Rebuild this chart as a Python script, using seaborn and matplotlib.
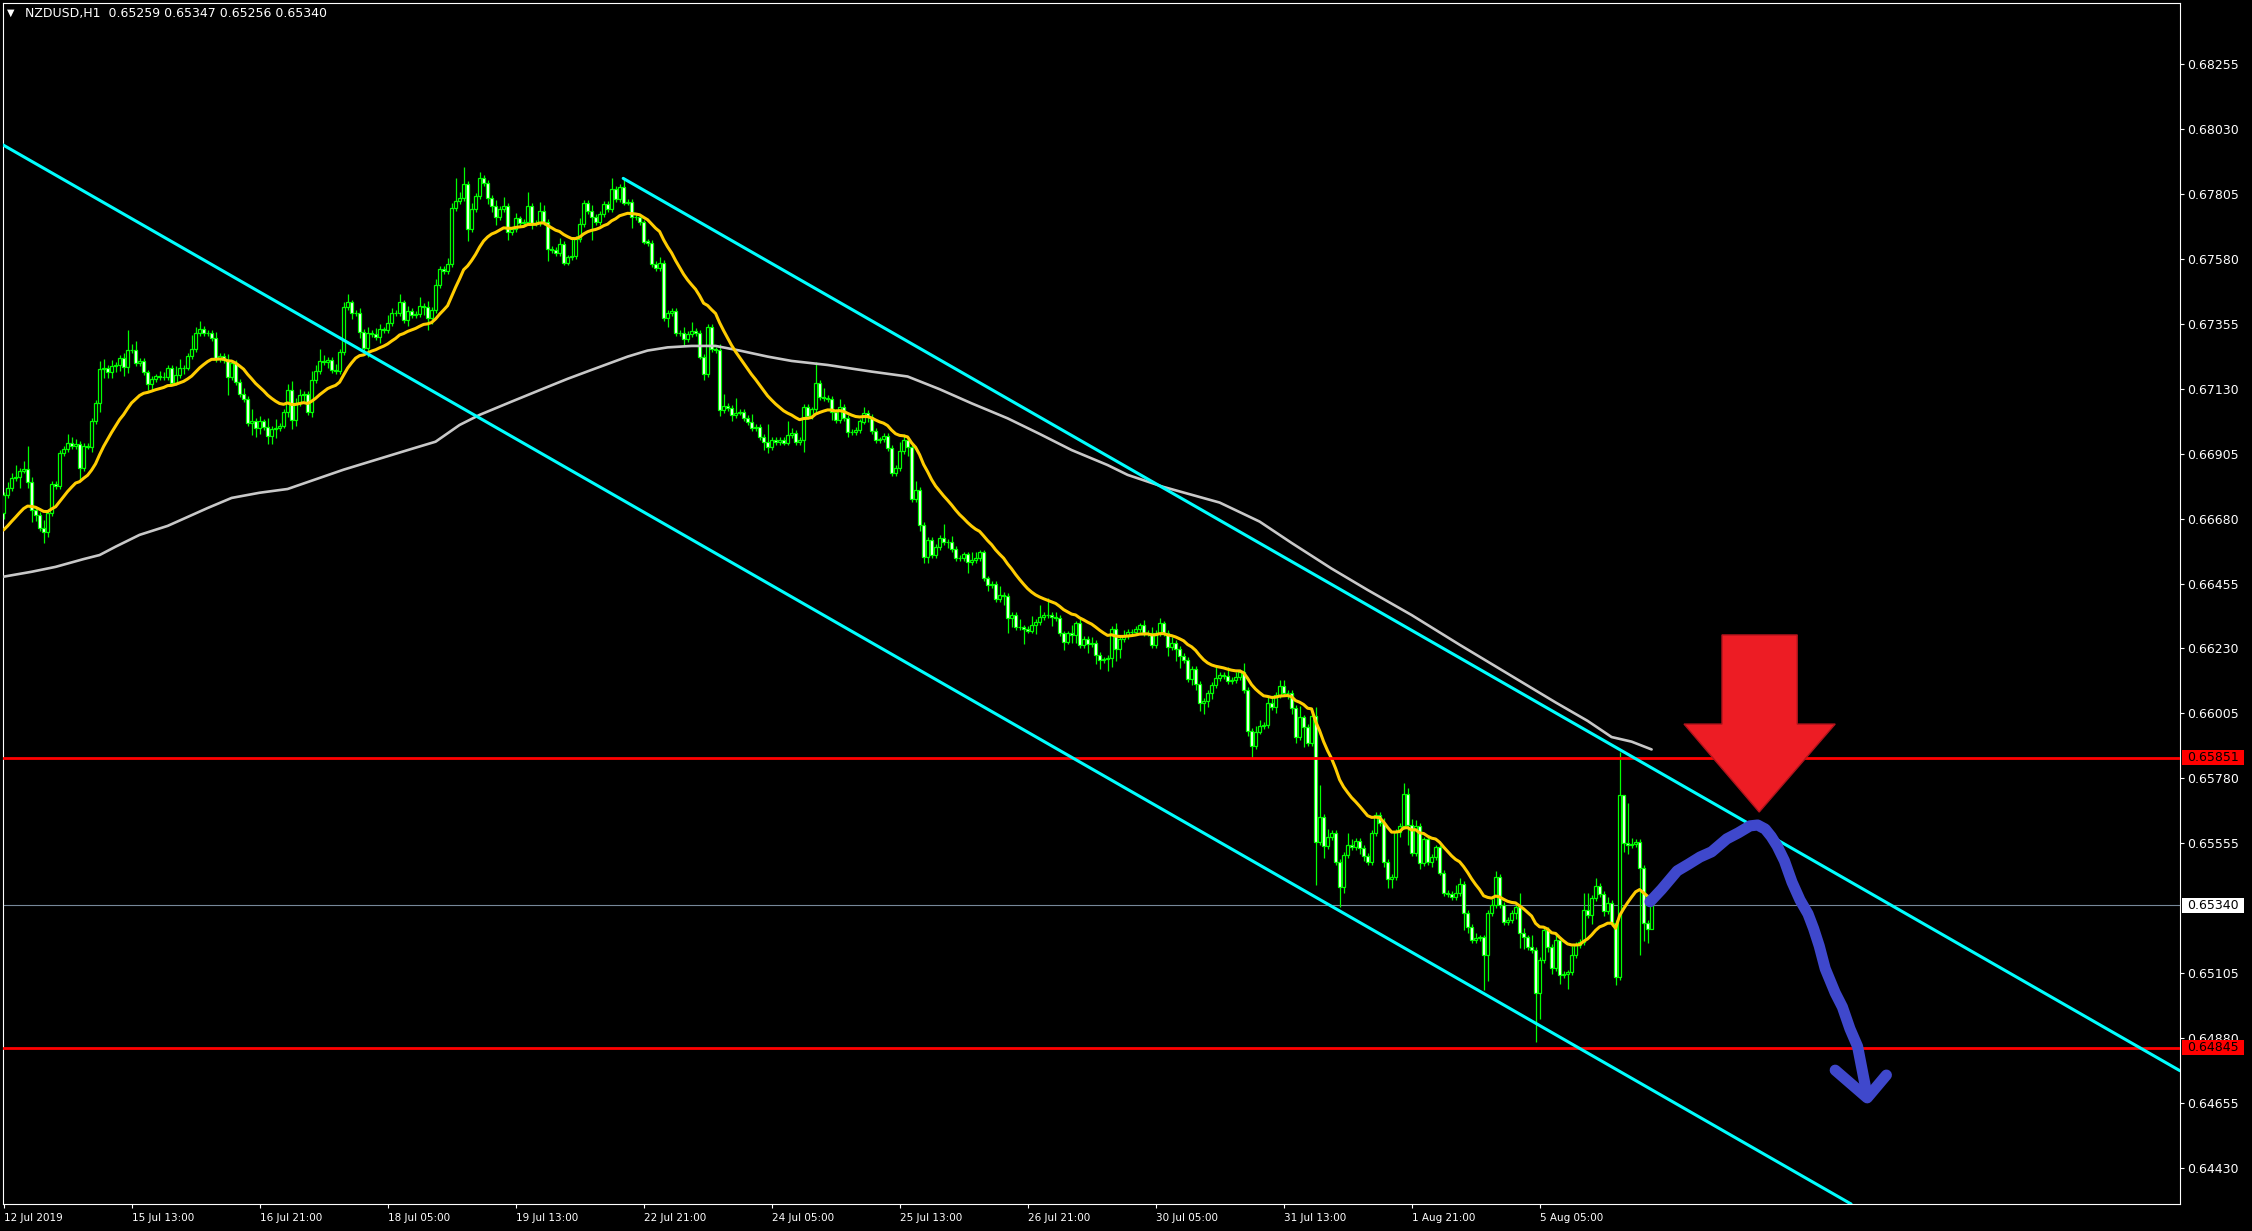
import numpy as np
import matplotlib
matplotlib.use("Agg")
import matplotlib.pyplot as plt
import matplotlib.transforms as mtransforms
from matplotlib.patches import Rectangle
import seaborn as sns

# NZDUSD H1 closes, bar 0 = 12 Jul 2019 05:00
closes = [
    # 0-71
    0.66762, 0.66786, 0.66820, 0.66826, 0.66847, 0.66851, 0.66806, 0.66710, 0.66693, 0.66647,
    0.66635, 0.66699, 0.66801, 0.66794, 0.66909, 0.66921, 0.66942, 0.66933, 0.66938, 0.66855,
    0.66932, 0.66930, 0.67019, 0.67080, 0.67198, 0.67202, 0.67187, 0.67210, 0.67212, 0.67236,
    0.67205, 0.67265, 0.67265, 0.67219, 0.67227, 0.67187, 0.67147, 0.67164, 0.67173, 0.67170,
    0.67170, 0.67202, 0.67152, 0.67179, 0.67202, 0.67204, 0.67244, 0.67268, 0.67325, 0.67337,
    0.67323, 0.67325, 0.67306, 0.67233, 0.67244, 0.67231, 0.67170, 0.67219, 0.67155, 0.67112,
    0.67094, 0.67011, 0.67020, 0.66994, 0.67017, 0.66999, 0.66968, 0.66990, 0.66994, 0.67003,
    0.67051, 0.67127,
    # 72-141
    0.67022, 0.67080, 0.67109, 0.67112, 0.67051, 0.67161, 0.67193, 0.67228, 0.67223, 0.67230,
    0.67196, 0.67191, 0.67259, 0.67413, 0.67430, 0.67394, 0.67392, 0.67328, 0.67271, 0.67323,
    0.67320, 0.67309, 0.67336, 0.67334, 0.67357, 0.67392, 0.67392, 0.67430, 0.67369, 0.67399,
    0.67385, 0.67389, 0.67417, 0.67415, 0.67375, 0.67404, 0.67490, 0.67546, 0.67540, 0.67563,
    0.67756, 0.67782, 0.67791, 0.67841, 0.67683, 0.67753, 0.67799, 0.67861, 0.67843, 0.67791,
    0.67764, 0.67727, 0.67753, 0.67764, 0.67675, 0.67683, 0.67721, 0.67706, 0.67710, 0.67764,
    0.67704, 0.67704, 0.67747, 0.67710, 0.67614, 0.67612, 0.67600, 0.67632, 0.67568, 0.67586,
    # 142-211
    0.67590, 0.67649, 0.67702, 0.67774, 0.67748, 0.67727, 0.67710, 0.67737, 0.67771, 0.67753,
    0.67822, 0.67788, 0.67829, 0.67776, 0.67779, 0.67727, 0.67725, 0.67707, 0.67641, 0.67637,
    0.67563, 0.67548, 0.67566, 0.67375, 0.67392, 0.67401, 0.67323, 0.67325, 0.67302, 0.67321,
    0.67332, 0.67325, 0.67242, 0.67181, 0.67344, 0.67267, 0.67265, 0.67057, 0.67072, 0.67063,
    0.67040, 0.67048, 0.67050, 0.67028, 0.67014, 0.66993, 0.66999, 0.66962, 0.66947, 0.66928,
    0.66953, 0.66947, 0.66953, 0.66944, 0.66969, 0.66976, 0.66947, 0.66953, 0.67066, 0.67036,
    0.67059, 0.67152, 0.67103, 0.67099, 0.67096, 0.67051, 0.67022, 0.67066, 0.67028, 0.66982,
    # 212-281
    0.66981, 0.66988, 0.67017, 0.67048, 0.67034, 0.66985, 0.66953, 0.66955, 0.66968, 0.66924,
    0.66837, 0.66855, 0.66915, 0.66953, 0.66928, 0.66747, 0.66780, 0.66658, 0.66548, 0.66606,
    0.66554, 0.66581, 0.66612, 0.66600, 0.66599, 0.66574, 0.66543, 0.66543, 0.66556, 0.66531,
    0.66536, 0.66543, 0.66563, 0.66473, 0.66450, 0.66455, 0.66400, 0.66415, 0.66412, 0.66334,
    0.66345, 0.66303, 0.66303, 0.66297, 0.66292, 0.66311, 0.66323, 0.66340, 0.66345, 0.66345,
    0.66338, 0.66337, 0.66282, 0.66254, 0.66282, 0.66278, 0.66317, 0.66242, 0.66264, 0.66245,
    0.66250, 0.66207, 0.66190, 0.66192, 0.66196, 0.66299, 0.66227, 0.66262, 0.66273, 0.66286,
    # 282-351
    0.66288, 0.66297, 0.66310, 0.66285, 0.66283, 0.66242, 0.66283, 0.66317, 0.66285, 0.66234,
    0.66250, 0.66227, 0.66204, 0.66190, 0.66123, 0.66158, 0.66107, 0.66042, 0.66048, 0.66075,
    0.66104, 0.66127, 0.66138, 0.66135, 0.66118, 0.66121, 0.66130, 0.66150, 0.66086, 0.65945,
    0.65892, 0.65942, 0.65961, 0.65964, 0.66042, 0.66028, 0.66069, 0.66101, 0.66077, 0.66075,
    0.66023, 0.65922, 0.65991, 0.65959, 0.65903, 0.65996, 0.65560, 0.65647, 0.65545, 0.65575,
    0.65589, 0.65491, 0.65402, 0.65514, 0.65549, 0.65543, 0.65564, 0.65537, 0.65512, 0.65491,
    0.65589, 0.65653, 0.65624, 0.65491, 0.65430, 0.65437, 0.65595, 0.65615, 0.65725, 0.65618,
    # 352-412
    0.65522, 0.65614, 0.65485, 0.65568, 0.65491, 0.65508, 0.65540, 0.65453, 0.65383, 0.65379,
    0.65369, 0.65381, 0.65413, 0.65314, 0.65265, 0.65219, 0.65225, 0.65228, 0.65167, 0.65314,
    0.65340, 0.65439, 0.65340, 0.65283, 0.65288, 0.65312, 0.65332, 0.65242, 0.65228, 0.65196,
    0.65184, 0.65036, 0.65150, 0.65254, 0.65196, 0.65121, 0.65219, 0.65098, 0.65101, 0.65107,
    0.65167, 0.65202, 0.65213, 0.65323, 0.65306, 0.65364, 0.65406, 0.65379, 0.65321, 0.65348,
    0.65277, 0.65092, 0.65722, 0.65554, 0.65549, 0.65552, 0.65559, 0.65468, 0.65277, 0.65259,
    0.65340,
]
first_open = 0.66700

# wick lengths above / below the body, in pips
upper_wick_pips = [
    1, 2, 2, 4, 1, 3, 8, 2, 1, 1,  3, 1, 1, 1, 1, 1, 3, 2, 2, 1,  1, 1, 1, 1, 3, 3, 1, 2, 1, 1,
    2, 7, 2, 3, 1, 1, 1, 1, 1, 2,  2, 1, 1, 3, 3, 1, 1, 5, 2, 3,  1, 1, 1, 2, 1, 1, 2, 1, 1, 1,
    2, 1, 4, 1, 2, 1, 3, 1, 3, 1,  1, 2,
    3, 2, 2, 1, 1, 3, 2, 4, 2, 1,  1, 2, 1, 2, 3, 1, 1, 2, 1, 2,  1, 2, 2, 1, 3, 2, 1, 3, 1, 2,
    1, 1, 3, 1, 2, 1, 2, 1, 1, 2,  2, 8, 2, 6, 1, 2, 1, 2, 1, 1,  1, 2, 1, 3, 1, 1, 2, 1, 1, 5,
    1, 1, 3, 2, 1, 1, 1, 2, 1, 1,
    6, 1, 2, 1, 1, 2, 1, 1, 1, 1,  4, 1, 1, 3, 1, 1, 1, 1, 1, 1,  1, 1, 2, 1, 1, 1, 1, 1, 2, 1,
    3, 1, 1, 1, 1, 1, 1, 2, 4, 1,  1, 5, 1, 1, 1, 3, 1, 1, 1, 6,  1, 1, 1, 1, 5, 2, 1, 1, 1, 1,
    1, 7, 1, 3, 1, 1, 1, 3, 1, 1,
    1, 1, 1, 2, 1, 1, 1, 1, 1, 1,  1, 1, 3, 2, 1, 1, 3, 1, 1, 1,  1, 1, 1, 5, 1, 2, 1, 1, 1, 1,
    3, 2, 1, 1, 1, 1, 1, 3, 1, 1,  1, 1, 3, 1, 1, 3, 1, 4, 1, 6,  1, 2, 1, 1, 1, 3, 1, 2, 1, 1,
    2, 1, 1, 1, 1, 1, 2, 1, 2, 1,
    1, 1, 1, 2, 1, 2, 1, 2, 1, 1,  2, 1, 1, 1, 1, 1, 1, 1, 1, 1,  1, 4, 1, 1, 3, 1, 2, 1, 3, 1,
    1, 2, 2, 1, 2, 2, 1, 2, 2, 1,  1, 1, 4, 1, 1, 2, 3, 11, 1, 3, 1, 1, 1, 1, 4, 2, 1, 1, 1, 1,
    1, 1, 1, 2, 1, 1, 1, 1, 4, 2,
    2, 2, 1, 1, 1, 1, 1, 1, 1, 1,  1, 3, 2, 1, 1, 1, 2, 1, 1, 1,  2, 2, 1, 1, 1, 1, 1, 5, 2, 1,
    4, 1, 1, 1, 1, 1, 2, 1, 1, 1,  3, 1, 1, 6, 6, 1, 3, 1, 1, 2,  1, 1, 15, 0, 14, 2, 1, 1, 1, 1,
    1,
]
lower_wick_pips = [
    2, 1, 1, 1, 4, 1, 2, 4, 2, 1,  4, 2, 1, 1, 1, 1, 1, 1, 1, 4,  1, 1, 2, 1, 3, 3, 2, 2, 2, 2,
    3, 2, 1, 1, 1, 1, 2, 2, 1, 1,  1, 1, 1, 1, 1, 2, 1, 1, 1, 1,  1, 1, 1, 1, 1, 1, 6, 1, 1, 1,
    1, 1, 4, 3, 2, 1, 3, 3, 3, 1,  1, 2,
    3, 2, 1, 2, 1, 2, 1, 1, 1, 2,  1, 1, 1, 1, 1, 2, 1, 2, 1, 3,  1, 1, 2, 1, 1, 1, 1, 1, 1, 2,
    1, 1, 1, 3, 4, 2, 1, 1, 1, 1,  1, 1, 1, 1, 4, 1, 1, 1, 1, 2,  2, 3, 1, 1, 3, 1, 1, 1, 1, 1,
    2, 1, 1, 1, 4, 1, 1, 1, 1, 1,
    1, 1, 1, 1, 1, 8, 1, 1, 1, 1,  1, 1, 1, 1, 1, 4, 1, 1, 1, 1,  1, 1, 1, 1, 3, 1, 1, 1, 2, 1,
    1, 1, 1, 2, 1, 1, 1, 2, 1, 1,  2, 1, 1, 1, 1, 1, 1, 1, 3, 2,  1, 1, 1, 1, 1, 1, 1, 1, 4, 1,
    1, 1, 1, 1, 1, 3, 1, 1, 1, 2,
    1, 1, 1, 1, 2, 1, 1, 1, 1, 1,  1, 1, 1, 1, 3, 1, 1, 2, 2, 2,  1, 1, 1, 1, 2, 1, 1, 1, 1, 4,
    1, 1, 1, 1, 2, 1, 1, 1, 3, 5,  3, 1, 1, 5, 1, 1, 3, 1, 1, 1,  3, 1, 1, 3, 1, 3, 3, 1, 1, 3,
    1, 3, 3, 1, 4, 3, 4, 3, 1, 1,
    1, 1, 1, 1, 1, 1, 1, 1, 1, 3,  1, 4, 4, 1, 1, 2, 2, 3, 4, 2,  2, 1, 1, 1, 1, 1, 1, 1, 1, 2,
    4, 1, 1, 1, 1, 1, 2, 1, 1, 2,  2, 2, 1, 7, 1, 1, 15, 1, 4, 1, 1, 1, 7, 2, 1, 1, 1, 2, 2, 1,
    1, 1, 1, 2, 3, 3, 1, 2, 1, 7,
    1, 1, 2, 1, 1, 2, 1, 1, 1, 1,  1, 1, 1, 6, 2, 1, 1, 1, 12, 9,  1, 1, 1, 1, 1, 1, 2, 5, 4, 1,
    1, 17, 9, 1, 2, 2, 1, 3, 1, 5,  1, 1, 1, 1, 1, 3, 1, 1, 2, 1,  1, 3, 1, 3, 3, 1, 1, 30, 6, 5,
    0,
]

# fast (yellow) MA value at the first bar, slow (silver) MA
ma_fast_start = 0.66641
ma_fast_period = 20
ma_slow_bars = [0, 7, 13, 20, 24, 28, 34, 41, 46, 51, 57, 64, 71, 85, 102, 108, 114, 119, 127,
                136, 141, 147, 156, 161, 166, 172, 178, 184, 191, 197, 206, 217, 226, 234, 242,
                251, 259, 267, 276, 281, 290, 304, 314, 322, 332, 341, 352, 364, 376, 388, 396,
                402, 407, 412]
ma_slow_prices = [0.66479, 0.66496, 0.66513, 0.66540, 0.66554, 0.66583, 0.66624, 0.66655,
                  0.66686, 0.66717, 0.66752, 0.66770, 0.66783, 0.66850, 0.66922, 0.66947,
                  0.67005, 0.67040, 0.67086, 0.67137, 0.67165, 0.67196, 0.67242, 0.67263,
                  0.67274, 0.67279, 0.67279, 0.67263, 0.67242, 0.67227, 0.67213, 0.67190,
                  0.67173, 0.67129, 0.67080, 0.67028, 0.66974, 0.66918, 0.66866, 0.66832,
                  0.66790, 0.66736, 0.66670, 0.66596, 0.66507, 0.66433, 0.66346, 0.66243,
                  0.66143, 0.66043, 0.65979, 0.65923, 0.65907, 0.65880]

x_tick_bars = [0, 32, 64, 96, 128, 160, 192, 224, 256, 288, 320, 352, 384]
x_tick_labels = ["12 Jul 2019", "15 Jul 13:00", "16 Jul 21:00", "18 Jul 05:00", "19 Jul 13:00",
                 "22 Jul 21:00", "24 Jul 05:00", "25 Jul 13:00", "26 Jul 21:00", "30 Jul 05:00",
                 "31 Jul 13:00", "1 Aug 21:00", "5 Aug 05:00"]
y_ticks = [0.68255, 0.68030, 0.67805, 0.67580, 0.67355, 0.67130, 0.66905, 0.66680, 0.66455,
           0.66230, 0.66005, 0.65780, 0.65555, 0.65105, 0.64880, 0.64655, 0.64430]

levels = [0.65851, 0.64845]
last_price = 0.65340
header = "NZDUSD,H1  0.65259 0.65347 0.65256 0.65340"

# drawn objects (bar index, price)
channel_top_bars = [154.9, 544.1]
channel_top_prices = [0.67860, 0.64766]
channel_low_bars = [-0.15, 462.0]
channel_low_prices = [0.67976, 0.64303]

arrow_bars = [429.6, 448.4, 448.4, 457.9, 438.9, 420.1, 429.6]
arrow_prices = [0.66277, 0.66277, 0.65968, 0.65968, 0.65663, 0.65968, 0.65968]

path_bars = [411.6, 414.5, 418.4, 421.2, 424.1, 427.0, 430.8, 433.7, 436.6, 438.5, 440.4,
             441.9, 443.4, 445.2, 447.1, 449.1, 451.1, 452.5, 453.9, 455.4, 457.9, 459.7,
             461.6, 463.5, 465.9]
path_prices = [0.65352, 0.65395, 0.65459, 0.65482, 0.65507, 0.65525, 0.65570, 0.65591,
               0.65615, 0.65618, 0.65604, 0.65578, 0.65545, 0.65494, 0.65420, 0.65358,
               0.65310, 0.65259, 0.65199, 0.65120, 0.65036, 0.64987, 0.64911, 0.64850,
               0.64679]
head_bars = [457.9, 465.9, 470.7]
head_prices = [0.64768, 0.64672, 0.64751]

sns.set_theme(style="dark", rc={"axes.facecolor": "black", "figure.facecolor": "black"})
plt.rcParams['font.family'] = ['DejaVu Sans']

c = np.array(closes)
o = np.r_[first_open, c[:-1]]
hi = np.maximum(o, c) + np.array(upper_wick_pips) * 1e-4
lo = np.minimum(o, c) - np.array(lower_wick_pips) * 1e-4
bars = np.arange(len(c))

alpha = 2.0 / (ma_fast_period + 1)
ma_fast = [ma_fast_start]
for v in c[1:]:
    ma_fast.append(ma_fast[-1] + alpha * (v - ma_fast[-1]))

W, H = 2252, 1231
fig = plt.figure(figsize=(W / 100, H / 100), dpi=100)
ax = fig.add_axes([3 / W, 1 - 1204 / H, 2177 / W, 1201 / H])
ax.set_facecolor("black")

green = "#00FF00"
ax.axhline(last_price, color="#778899", lw=0.8, zorder=1)

ax.vlines(bars, lo, hi, colors=green, lw=0.9, zorder=3)
bull = c >= o
ax.bar(bars, np.abs(c - o) + 1e-6, bottom=np.minimum(o, c), width=0.62,
       color=np.where(bull, "black", "white"), edgecolor=green, linewidth=0.9, zorder=3)

sns.lineplot(x=ma_slow_bars, y=ma_slow_prices, color="#C8C8C8", lw=1.9, ax=ax, zorder=4)
sns.lineplot(x=bars, y=ma_fast, color="#FFCC00", lw=2.2, ax=ax, zorder=4)

for p in levels:
    ax.axhline(p, color="#FF0000", lw=2.0, zorder=5)
ax.plot(channel_top_bars, channel_top_prices, color="#00FFFF", lw=2.2, zorder=5)
ax.axline((channel_low_bars[0], channel_low_prices[0]), (channel_low_bars[1], channel_low_prices[1]),
          color="#00FFFF", lw=2.2, zorder=5)

ax.plot(path_bars, path_prices, color="#3F48CC", lw=8, solid_capstyle="round",
        solid_joinstyle="round", zorder=6)
ax.plot(head_bars, head_prices, color="#3F48CC", lw=8, solid_capstyle="round",
        solid_joinstyle="round", zorder=6)
ax.fill(arrow_bars, arrow_prices, facecolor="#ED1C24", edgecolor="#B0141C", lw=1, zorder=7)

ax.set_xlim(-0.15, 544.1)
ax.set_ylim(0.64304, 0.68468)
ax.set_xlabel("")
ax.set_ylabel("")
ax.grid(False)

ax.set_xticks(x_tick_bars)
ax.set_xticklabels(x_tick_labels)
for lbl in ax.get_xticklabels():
    lbl.set_ha("left")
ax.yaxis.tick_right()
ax.set_yticks(y_ticks)
ax.set_yticklabels([f"{v:.5f}" for v in y_ticks])
ax.tick_params(axis="x", bottom=True, colors="white", length=3, width=0.8, pad=3.5,
               labelsize=7.5, direction="out")
ax.tick_params(axis="y", right=True, left=False, labelright=True, labelleft=False,
               colors="white", length=3, width=0.8, pad=2, labelsize=9, direction="out")
for s in ax.spines.values():
    s.set_visible(True)
    s.set_color("white")
    s.set_linewidth(0.8)

trans = mtransforms.blended_transform_factory(ax.transAxes, ax.transData)
box_h = 15 / 28840
for p, fc in [(levels[0], "#FF0000"), (levels[1], "#FF0000"), (last_price, "white")]:
    ax.add_patch(Rectangle((1.0009, p - box_h / 2), 0.0285, box_h, transform=trans,
                           facecolor=fc, edgecolor="none", clip_on=False, zorder=10))
    ax.text(1.0032, p, f"{p:.5f}", transform=trans, ha="left", va="center",
            fontsize=9, color="black", clip_on=False, zorder=11)

fig.text(7 / W, 1 - 13 / H, "\u25BC", color="white", fontsize=7, va="center")
fig.text(25 / W, 1 - 14 / H, header, color="white", fontsize=9, va="center")

fig.savefig("out.png", dpi=100, facecolor="black")
